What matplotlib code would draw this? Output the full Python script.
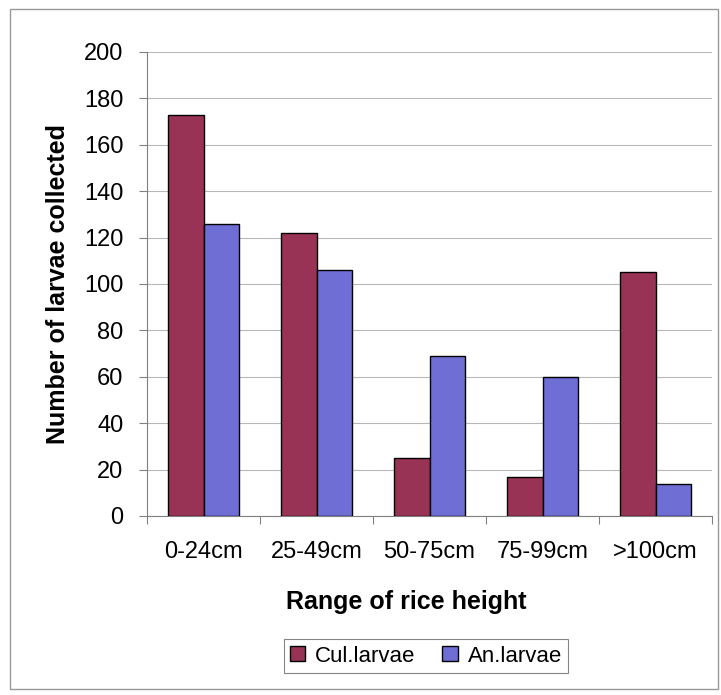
import numpy as np
import matplotlib.pyplot as plt
from matplotlib.patches import Rectangle

plt.rcParams['font.family'] = ['Liberation Sans', 'DejaVu Sans']

categories = ['0-24cm', '25-49cm', '50-75cm', '75-99cm', '>100cm']
cul_larvae = [173, 122, 25, 17, 105]
an_larvae = [126, 106, 69, 60, 14]
y_ticks = [0, 20, 40, 60, 80, 100, 120, 140, 160, 180, 200]

fig = plt.figure(figsize=(7.21, 6.95), dpi=100)
ax = fig.add_axes([147 / 721, 1 - 516 / 695, (712 - 147) / 721, (516 - 52) / 695])

x = np.arange(len(categories))
w = 0.31
ax.bar(x - w / 2, cul_larvae, w, color='#993355', edgecolor='black', linewidth=1, label='Cul.larvae', zorder=3)
ax.bar(x + w / 2, an_larvae, w, color='#6E6ED4', edgecolor='black', linewidth=1, label='An.larvae', zorder=3)

ax.set_xlim(-0.5, len(categories) - 0.5)
ax.set_ylim(0, 200)
ax.set_yticks(y_ticks)
ax.yaxis.grid(True, color='#b8b8b8', linewidth=0.8, zorder=0)
ax.set_xticks(np.arange(-0.5, len(categories), 1))
ax.set_xticklabels([])
ax.set_xticks(x, minor=True)
ax.set_xticklabels(categories, minor=True, fontsize=17)
ax.tick_params(axis='x', which='minor', length=0, pad=18)
ax.tick_params(axis='x', which='major', length=6, color='#808080')
ax.tick_params(axis='y', labelsize=17, length=6, color='#808080', pad=11)
for s in ['top', 'right']:
    ax.spines[s].set_visible(False)
for s in ['left', 'bottom']:
    ax.spines[s].set_color('#808080')

ax.set_xlabel('Range of rice height', fontsize=18, fontweight='bold', labelpad=14)
ax.xaxis.set_label_coords((406 - 147) / 565, -0.16)
ax.set_ylabel('Number of larvae collected', fontsize=18, fontweight='bold', labelpad=10)

leg = ax.legend(loc='center', bbox_to_anchor=((426 - 147) / 565, 1 - (656 - 52) / 464), ncol=2,
                fontsize=16, frameon=True, fancybox=False, edgecolor='#666666',
                handlelength=0.68, handleheight=0.65, handletextpad=0.45, columnspacing=1.2,
                borderpad=0.3, borderaxespad=0)
leg.get_frame().set_linewidth(0.8)

fig.patches.append(Rectangle((10 / 721, 6 / 695), 708 / 721, 680 / 695, transform=fig.transFigure,
                             fill=False, edgecolor='#999999', linewidth=1))

fig.savefig('out.png', dpi=100)
